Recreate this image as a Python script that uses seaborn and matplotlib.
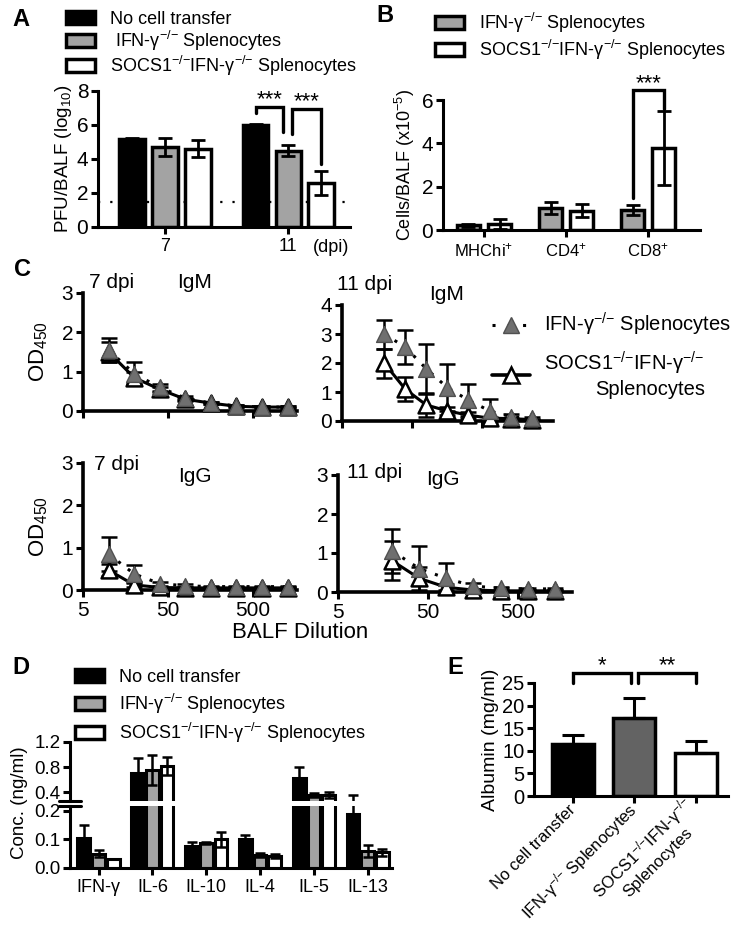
import numpy as np
import pandas as pd
import matplotlib
matplotlib.use("Agg")
import matplotlib.pyplot as plt
import seaborn as sns
from matplotlib.patches import Patch
from matplotlib.lines import Line2D
from matplotlib.ticker import NullLocator
from matplotlib.container import BarContainer

# ---------------- data ----------------
KO = "$^{{-}/{-}}$"
groups3 = ["No cell transfer", "IFN-γ" + KO + " Splenocytes", "SOCS1" + KO + "IFN-γ" + KO + " Splenocytes"]
groups2 = groups3[1:]

a_days = ["7", "11"]
a_none = [5.2, 6.0]
a_none_err = [0.06, 0.06]
a_ifn = [4.7, 4.5]
a_ifn_err = [0.55, 0.35]
a_socs = [4.6, 2.6]
a_socs_err = [0.5, 0.7]
a_limit = 1.5

b_cells = ["MHChi$^{+}$", "CD4$^{+}$", "CD8$^{+}$"]
b_ifn = [0.22, 1.0, 0.92]
b_ifn_err = [0.08, 0.28, 0.22]
b_socs = [0.28, 0.88, 3.8]
b_socs_err = [0.22, 0.3, 1.7]

dil7 = [10, 20, 40, 80, 160, 320, 640, 1280]
dil11m = [20, 40, 80, 160, 320, 640, 1280, 2560]
dil11g = [20, 40, 80, 160, 320, 640, 1280]

igm7_ifn = [1.55, 0.95, 0.6, 0.33, 0.2, 0.13, 0.1, 0.1]
igm7_ifn_err = [0.3, 0.3, 0.08, 0.05, 0.03, 0.02, 0.02, 0.02]
igm7_socs = [1.5, 0.85, 0.55, 0.3, 0.2, 0.12, 0.1, 0.1]
igm7_socs_err = [0.25, 0.15, 0.06, 0.04, 0.03, 0.02, 0.02, 0.02]

igm11_ifn = [3.0, 2.55, 1.8, 1.15, 0.72, 0.35, 0.15, 0.1]
igm11_ifn_err = [0.5, 0.6, 0.87, 0.8, 0.55, 0.42, 0.08, 0.05]
igm11_socs = [2.0, 1.1, 0.55, 0.35, 0.2, 0.1, 0.08, 0.05]
igm11_socs_err = [0.5, 0.42, 0.4, 0.15, 0.1, 0.05, 0.03, 0.02]

igg7_ifn = [0.85, 0.38, 0.15, 0.1, 0.08, 0.08, 0.08, 0.08]
igg7_ifn_err = [0.4, 0.2, 0.05, 0.03, 0.02, 0.02, 0.02, 0.02]
igg7_socs = [0.47, 0.12, 0.06, 0.05, 0.05, 0.05, 0.05, 0.05]
igg7_socs_err = [0.15, 0.05, 0.02, 0.01, 0.01, 0.01, 0.01, 0.01]

igg11_ifn = [1.05, 0.6, 0.35, 0.15, 0.1, 0.08, 0.08]
igg11_ifn_err = [0.57, 0.57, 0.4, 0.08, 0.04, 0.03, 0.03]
igg11_socs = [0.8, 0.35, 0.12, 0.05, 0.03, 0.03, 0.03]
igg11_socs_err = [0.5, 0.3, 0.08, 0.03, 0.02, 0.02, 0.02]

d_cyt = ["IFN-γ", "IL-6", "IL-10", "IL-4", "IL-5", "IL-13"]
d_none = [0.105, 0.70, 0.078, 0.103, 0.62, 0.19]
d_none_err = [0.045, 0.24, 0.012, 0.012, 0.18, 0.16]
d_ifn = [0.05, 0.76, 0.088, 0.045, 0.35, 0.06]
d_ifn_err = [0.012, 0.24, 0.004, 0.006, 0.03, 0.022]
d_socs = [0.033, 0.82, 0.1, 0.042, 0.35, 0.055]
d_socs_err = [0.0, 0.14, 0.027, 0.008, 0.05, 0.012]

e_groups = ["No cell transfer", "IFN-γ" + KO + " Splenocytes", "SOCS1" + KO + "IFN-γ" + KO + "\nSplenocytes"]
e_vals = [11.5, 17.3, 9.6]
e_err = [2.0, 4.3, 2.5]

# ---------------- style ----------------
sns.set_theme(style="ticks")
plt.rcParams.update({
    "font.family": ["Liberation Sans", "DejaVu Sans"],
    "mathtext.fontset": "custom",
    "mathtext.rm": "Liberation Sans",
    "mathtext.it": "Liberation Sans:italic",
    "mathtext.bf": "Liberation Sans:bold",
    "mathtext.default": "regular",
    "axes.linewidth": 2.2,
    "axes.edgecolor": "black",
    "axes.labelcolor": "black",
    "text.color": "black",
    "xtick.color": "black",
    "ytick.color": "black",
    "xtick.major.width": 2.2,
    "ytick.major.width": 2.2,
    "xtick.major.size": 5,
    "ytick.major.size": 5,
    "xtick.major.pad": 3,
    "ytick.major.pad": 2,
})

BLACK, GRAY, WHITE = "#000000", "#a3a3a3", "#ffffff"
CGRAY = "#6f6f6f"
EGRAY = "#636363"

W, H = 731, 927
fig = plt.figure(figsize=(W / 100, H / 100), dpi=100)


def add_ax(l, t, r, b):
    return fig.add_axes([l / W, 1 - b / H, (r - l) / W, (b - t) / H])


def clean(ax, fs=13):
    sns.despine(ax=ax)
    ax.tick_params(labelsize=fs)
    ax.set_xlabel("")
    ax.set_ylabel("")


def centers(ax):
    return [[p.get_x() + p.get_width() / 2 for p in c]
            for c in ax.containers if isinstance(c, BarContainer)]


def bar_errors(ax, vals_list, errs_list, capsize=5, lw=2.0):
    cs = centers(ax)
    for xs, vals, errs in zip(cs, vals_list, errs_list):
        ax.errorbar(xs, vals, yerr=errs, fmt="none", ecolor="black",
                    elinewidth=lw, capsize=capsize, capthick=lw, zorder=5)


def bracket(ax, x1, x2, y, b1, b2, txt, fs=15, dy=0.0):
    ax.plot([x1, x1, x2, x2], [b1, y, y, b2], color="black", lw=2.4,
            clip_on=False, solid_joinstyle="miter", zorder=6)
    ax.text((x1 + x2) / 2, y + dy, txt, ha="center", va="bottom", fontsize=fs,
            clip_on=False)


def legend_patches(colors, labels, x, y, fs=13, spacing=0.1):
    hs = [Patch(facecolor=c, edgecolor="black", linewidth=2.5) for c in colors]
    fig.legend(hs, labels, loc="upper left", bbox_to_anchor=(x / W, 1 - y / H),
               frameon=False, fontsize=fs, handlelength=1.6, handleheight=0.75,
               labelspacing=spacing, handletextpad=0.85, borderaxespad=0, borderpad=0)


# ---------------- panel A ----------------
dfA = pd.DataFrame({
    "day": a_days * 3,
    "group": [g for g in groups3 for _ in a_days],
    "val": a_none + a_ifn + a_socs,
})
axA = add_ax(98, 91, 350, 227)
sns.barplot(data=dfA, x="day", y="val", hue="group", hue_order=groups3, order=a_days,
            palette=[BLACK, GRAY, WHITE], saturation=1, edgecolor="black", linewidth=2.5,
            width=0.8, gap=0.22, errorbar=None, legend=False, ax=axA)
cA = centers(axA)
bar_errors(axA, [a_none, a_ifn, a_socs], [a_none_err, a_ifn_err, a_socs_err])
axA.axhline(a_limit, color="black", ls=(0, (1, 4.5)), lw=1.6, zorder=0)
axA.set_ylim(0, 8)
axA.set_yticks([0, 2, 4, 6, 8])
axA.set_xlim(-0.545, 1.5)
clean(axA, 15)
axA.set_ylabel("PFU/BALF (log$_{10}$)", fontsize=13.5, labelpad=2)
axA.tick_params(axis="x", labelsize=13)
axA.annotate("(dpi)", xy=(1.2, 0), xycoords=("data", "axes fraction"),
             xytext=(0, -9), textcoords="offset points", ha="left", va="top", fontsize=13)
bracket(axA, cA[0][1], cA[1][1] - 0.04, 7.05, 6.7, 5.6, "***", fs=16, dy=-0.2)
bracket(axA, cA[1][1] + 0.03, cA[2][1], 6.95, 5.5, 3.7, "***", fs=16, dy=-0.2)
legend_patches([BLACK, GRAY, WHITE], ["No cell transfer", " " + groups3[1], groups3[2]], 66, 11,
               spacing=0.05)
fig.text(12 / W, 1 - 19 / H, "A", fontsize=17, fontweight="bold", va="center")

# ---------------- panel B ----------------
dfB = pd.DataFrame({
    "cell": b_cells * 2,
    "group": [g for g in groups2 for _ in b_cells],
    "val": b_ifn + b_socs,
})
axB = add_ax(443, 100, 700, 230)
sns.barplot(data=dfB, x="cell", y="val", hue="group", hue_order=groups2, order=b_cells,
            palette=[GRAY, WHITE], saturation=1, edgecolor="black", linewidth=2.5,
            width=0.76, gap=0.26, errorbar=None, legend=False, ax=axB)
cB = centers(axB)
bar_errors(axB, [b_ifn, b_socs], [b_ifn_err, b_socs_err])
axB.set_ylim(0, 6)
axB.set_yticks([0, 2, 4, 6])
axB.set_xlim(-0.5, 2.63)
clean(axB, 15)
axB.tick_params(axis="x", labelsize=12)
axB.set_ylabel("Cells/BALF (x10$^{-5}$)", fontsize=13, labelpad=3)
bracket(axB, cB[0][2], cB[1][2], 6.45, 1.5, 5.6, "***", fs=16, dy=-0.2)
legend_patches([GRAY, WHITE], groups2, 435, 11, spacing=0.15)
fig.text(376 / W, 1 - 16 / H, "B", fontsize=17, fontweight="bold", va="center")

# ---------------- panel C ----------------
def dil_panel(ax, xs, ifn, ifn_err, socs, socs_err, xmax, ymax, labels):
    ax.set_xscale("log")
    sns.lineplot(x=xs, y=socs, ax=ax, color="black", lw=2.2, errorbar=None, zorder=2)
    sns.lineplot(x=xs, y=ifn, ax=ax, color="black", lw=2.2, ls=(0, (1, 3)), errorbar=None, zorder=2)
    ax.errorbar(xs, socs, yerr=socs_err, fmt="none", ecolor="black", elinewidth=1.8,
                capsize=6, capthick=1.8, zorder=3)
    ax.errorbar(xs, ifn, yerr=ifn_err, fmt="none", ecolor="black", elinewidth=1.8,
                capsize=6, capthick=1.8, zorder=3)
    sns.scatterplot(x=xs, y=socs, ax=ax, marker="^", s=130, color="white",
                    edgecolor="black", linewidth=1.8, zorder=4, legend=False)
    sns.scatterplot(x=xs, y=ifn, ax=ax, marker="^", s=130, color=CGRAY,
                    edgecolor="#505050", linewidth=1.0, zorder=5, legend=False)
    ax.set_xlim(5, xmax)
    ax.set_ylim(0, ymax)
    ax.set_yticks(range(0, ymax + 1))
    ax.set_xticks([5, 50, 500])
    ax.xaxis.set_minor_locator(NullLocator())
    ax.set_xticklabels(["5", "50", "500"] if labels else [])
    clean(ax, 15)
    for s in ("left", "bottom"):
        ax.spines[s].set_linewidth(2.6)
    for c in ax.collections:
        c.set_clip_on(False)
    for l in ax.lines:
        l.set_clip_on(False)


axC1 = add_ax(83, 293, 297, 411)
dil_panel(axC1, dil7, igm7_ifn, igm7_ifn_err, igm7_socs, igm7_socs_err, 1650, 3, False)
axC2 = add_ax(342, 305, 553, 421)
dil_panel(axC2, dil11m, igm11_ifn, igm11_ifn_err, igm11_socs, igm11_socs_err, 5160, 4, False)
axC3 = add_ax(83, 463, 297, 590)
dil_panel(axC3, dil7, igg7_ifn, igg7_ifn_err, igg7_socs, igg7_socs_err, 1650, 3, True)
axC4 = add_ax(338, 475, 572, 592)
dil_panel(axC4, dil11g, igg11_ifn, igg11_ifn_err, igg11_socs, igg11_socs_err, 1990, 3, True)

for ax in (axC1, axC3):
    ax.set_ylabel("OD$_{450}$", fontsize=16, labelpad=8)

fig.text(14 / W, 1 - 270 / H, "C", fontsize=17, fontweight="bold", va="center")
fig.text(112 / W, 1 - 282 / H, "7 dpi", fontsize=15, ha="center", va="center")
fig.text(195 / W, 1 - 283 / H, "IgM", fontsize=15, ha="center", va="center")
fig.text(365 / W, 1 - 285 / H, "11 dpi", fontsize=15, ha="center", va="center")
fig.text(447 / W, 1 - 295 / H, "IgM", fontsize=15, ha="center", va="center")
fig.text(117 / W, 1 - 464 / H, "7 dpi", fontsize=15, ha="center", va="center")
fig.text(195 / W, 1 - 476 / H, "IgG", fontsize=15, ha="center", va="center")
fig.text(375 / W, 1 - 473 / H, "11 dpi", fontsize=15, ha="center", va="center")
fig.text(443 / W, 1 - 480 / H, "IgG", fontsize=15, ha="center", va="center")
fig.text(300 / W, 1 - 633 / H, "BALF Dilution", fontsize=16, ha="center", va="center")

hC = [Line2D([], [], color="black", ls=(0, (1, 4)), lw=2.2, marker="^", markersize=12,
             markerfacecolor=CGRAY, markeredgecolor="#505050"),
      Line2D([], [], color="black", ls="-", lw=2.6, marker="^", markersize=12,
             markerfacecolor="white", markeredgecolor="black", markeredgewidth=1.8)]
legC = fig.legend(hC, ["IFN-γ" + KO + " Splenocytes", "SOCS1" + KO + "IFN-γ" + KO + "\nSplenocytes"],
                  loc="upper left", bbox_to_anchor=(492 / W, 1 - 311 / H), frameon=False,
                  fontsize=14.5, handlelength=1.9, handletextpad=0.7, labelspacing=0.6,
                  borderaxespad=0, borderpad=0)
for t in legC.get_texts():
    t.set_multialignment("right")

# ---------------- panel D ----------------
dfD = pd.DataFrame({
    "cyt": d_cyt * 3,
    "group": [g for g in groups3 for _ in d_cyt],
    "val": d_none + d_ifn + d_socs,
})
axDu = add_ax(70, 742, 392, 801)
axDl = add_ax(70, 806, 392, 868)
for ax in (axDu, axDl):
    sns.barplot(data=dfD, x="cyt", y="val", hue="group", hue_order=groups3, order=d_cyt,
                palette=[BLACK, GRAY, WHITE], saturation=1, edgecolor="black", linewidth=2.2,
                width=0.82, gap=0.14, errorbar=None, legend=False, ax=ax)
    bar_errors(ax, [d_none, d_ifn, d_socs], [d_none_err, d_ifn_err, d_socs_err], capsize=3.5, lw=1.8)
    ax.set_xlim(-0.53, 5.45)
    clean(ax, 13.5)
axDu.set_ylim(0.26, 1.2)
axDu.set_yticks([0.4, 0.8, 1.2])
axDu.set_yticklabels(["0.4", "0.8", "1.2"])
axDu.spines["bottom"].set_visible(False)
axDu.tick_params(axis="x", bottom=False, labelbottom=False)
axDl.set_ylim(0, 0.2175)
axDl.set_yticks([0.0, 0.1, 0.2])
axDl.set_yticklabels(["0.0", "0.1", "0.2"])
axDl.tick_params(axis="x", labelsize=13)
axDu.plot([-0.035, 0.035], [0, 0], transform=axDu.transAxes, color="black", lw=2.2, clip_on=False)
axDl.plot([-0.035, 0.035], [1, 1], transform=axDl.transAxes, color="black", lw=2.2, clip_on=False)
fig.text(20 / W, 1 - 803 / H, "Conc. (ng/ml)", fontsize=13.5, rotation=90, ha="center", va="center")
legend_patches([BLACK, GRAY, WHITE], groups3, 75, 669, spacing=0.3)
fig.text(12 / W, 1 - 668 / H, "D", fontsize=17, fontweight="bold", va="center")

# ---------------- panel E ----------------
dfE = pd.DataFrame({"group": e_groups, "val": e_vals})
axE = add_ax(534, 683, 728, 796)
sns.barplot(data=dfE, x="group", y="val", hue="group", order=e_groups, hue_order=e_groups,
            palette=[BLACK, EGRAY, WHITE], saturation=1, edgecolor="black", linewidth=2.5,
            width=0.68, dodge=False, errorbar=None, legend=False, ax=axE)
xsE = [c[0] for c in centers(axE)]
axE.errorbar(xsE, e_vals, yerr=[np.zeros(3), e_err], fmt="none", ecolor="black",
             elinewidth=2.2, capsize=8, capthick=2.2, zorder=5)
axE.set_ylim(0, 25)
axE.set_yticks([0, 5, 10, 15, 20, 25])
axE.set_xlim(-0.63, 2.52)
clean(axE, 14.5)
axE.set_ylabel("Albumin (mg/ml)", fontsize=14, labelpad=2)
axE.set_xticks(range(3))
axE.set_xticklabels(e_groups, rotation=45, ha="right", rotation_mode="anchor", fontsize=12,
                    va="center")
for t in axE.get_xticklabels():
    t.set_multialignment("center")
bracket(axE, xsE[0], xsE[1] - 0.06, 27.2, 25, 25, "*", fs=16, dy=-0.8)
bracket(axE, xsE[1] + 0.06, xsE[2], 27.2, 25, 25, "**", fs=16, dy=-0.8)
fig.text(447 / W, 1 - 668 / H, "E", fontsize=17, fontweight="bold", va="center")

fig.savefig("out.png", dpi=100)
